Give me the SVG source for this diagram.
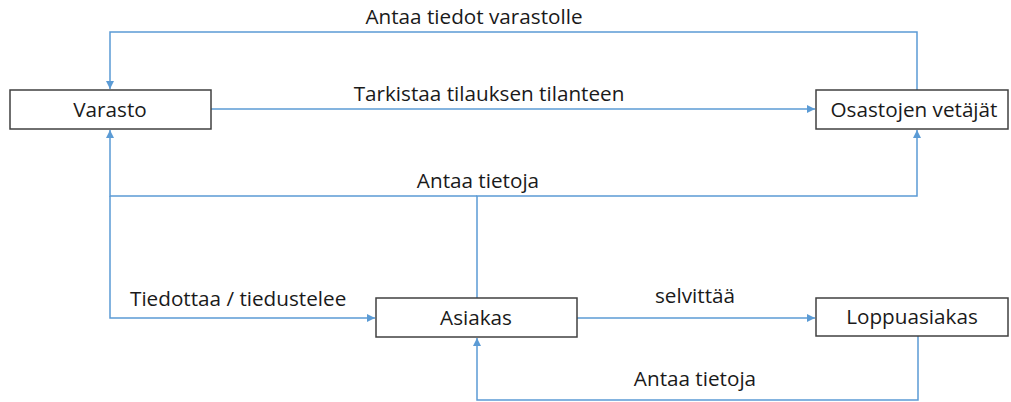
<svg xmlns="http://www.w3.org/2000/svg" width="1011" height="402" viewBox="0 0 1011 402">
<defs>
<marker id="arr" viewBox="0 0 10 10" refX="10" refY="5" markerWidth="8" markerHeight="8" markerUnits="userSpaceOnUse" orient="auto">
<path d="M0,0 L10,5 L0,10 z" fill="#5B9BD5"/>
</marker>
<style>
.box{fill:#fff;stroke:#404040;stroke-width:1.5}
.lbl{font-family:"Open Sans","Noto Sans",sans-serif;font-size:20.7px;fill:#1a1a1a}
.c{fill:none;stroke:#5B9BD5;stroke-width:1.5}
</style>
</defs>
<rect width="1011" height="402" fill="#fff"/>
<g id="connectors">
<path class="c" d="M917,90 V32 H110 V89" marker-end="url(#arr)"/>
<path class="c" d="M211,109 H815" marker-end="url(#arr)"/>
<path class="c" d="M477,298 V196 H917 V130" marker-end="url(#arr)"/>
<path class="c" d="M477,196 H110 V130" marker-end="url(#arr)"/>
<path class="c" d="M110,196 V318 H375" marker-end="url(#arr)"/>
<path class="c" d="M577,318 H815" marker-end="url(#arr)"/>
<path class="c" d="M918,336 V400 H477 V338" marker-end="url(#arr)"/>
<text class="lbl" x="474" y="24" text-anchor="middle">Antaa tiedot varastolle</text>
<text class="lbl" x="489" y="101" text-anchor="middle">Tarkistaa tilauksen tilanteen</text>
<text class="lbl" x="478" y="188" text-anchor="middle">Antaa tietoja</text>
<text class="lbl" x="130" y="306">Tiedottaa / tiedustelee</text>
<text class="lbl" x="695" y="303" text-anchor="middle">selvittää</text>
<text class="lbl" x="695" y="386" text-anchor="middle">Antaa tietoja</text>
</g>
<g id="varasto">
<rect class="box" x="10" y="90" width="201" height="39"/>
<text class="lbl" x="110" y="117" text-anchor="middle">Varasto</text>
</g>
<g id="osastojen">
<rect class="box" x="816" y="90" width="192" height="39"/>
<text class="lbl" x="914" y="117" text-anchor="middle">Osastojen vetäjät</text>
</g>
<g id="asiakas">
<rect class="box" x="376" y="298" width="201" height="39"/>
<text class="lbl" x="476" y="325" text-anchor="middle">Asiakas</text>
</g>
<g id="loppuasiakas">
<rect class="box" x="816" y="298" width="192" height="38"/>
<text class="lbl" x="912" y="324" text-anchor="middle">Loppuasiakas</text>
</g>
</svg>
